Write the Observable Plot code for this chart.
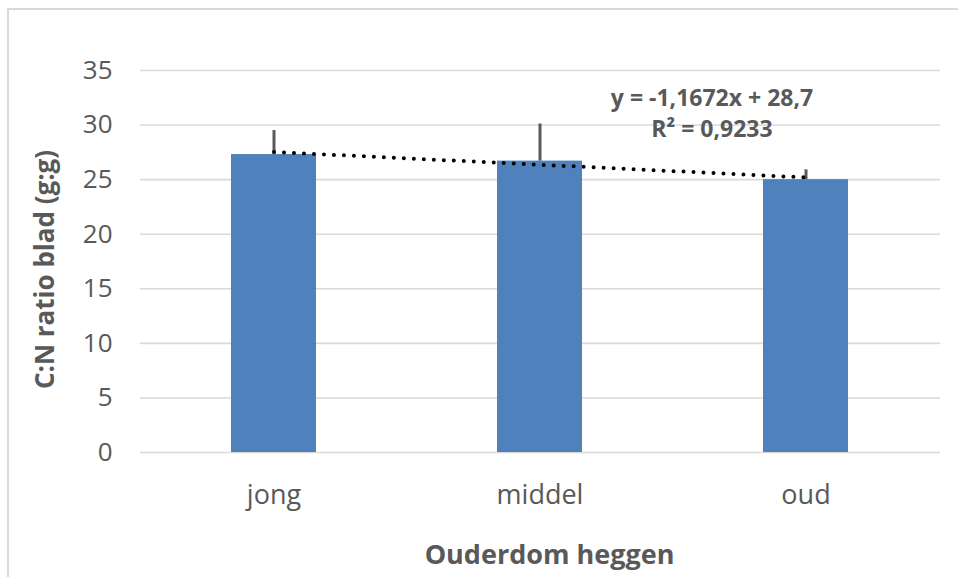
<!DOCTYPE html>
<html><head><meta charset="utf-8">
<script src="https://cdn.jsdelivr.net/npm/d3@7"></script>
<script src="https://cdn.jsdelivr.net/npm/@observablehq/plot@0.6"></script>
<style>
body{margin:0;background:#fff;}
#wrap{position:relative;width:958px;height:577px;overflow:hidden;}
#border{position:absolute;left:7px;top:8px;width:960px;height:580px;border-top:2px solid #d9d9d9;border-left:2px solid #d9d9d9;pointer-events:none;}
svg{display:block;}
</style></head><body><div id="wrap"><div id="border"></div></div>
<script>
const categories = ["jong", "middel", "oud"];
const values = [27.3, 26.7, 25.0];
const errorTops = [29.5, 30.1, 25.9];
// linear trendline y = -1,1672x + 28,7 evaluated at the first and last category
const trendCategories = ["jong", "oud"];
const trendValues = [27.53, 25.20];
const yTicks = [0, 5, 10, 15, 20, 25, 30, 35];
const equationLines = ["y = -1,1672x + 28,7", "R² = 0,9233"];
const equationY = [32.43, 29.6];
const xTitle = "Ouderdom heggen";
const yTitle = "C:N ratio blad (g:g)";

const bars = categories.map((c, i) => ({cat: c, value: values[i], top: errorTops[i]}));
const trend = trendCategories.map((c, i) => ({cat: c, value: trendValues[i]}));
const eq = equationLines.map((t, i) => ({text: t, y: equationY[i]}));

const textColor = "#595959";
const W = 958, H = 577, ML = 140, MR = 18, MT = 70, MB = 125;

const chart = Plot.plot({
  width: W, height: H,
  marginLeft: ML, marginRight: MR, marginTop: MT, marginBottom: MB,
  style: {fontFamily: "'Open Sans', sans-serif", background: "#fff"},
  x: {domain: categories, paddingInner: 0.68, paddingOuter: 0.34, label: null},
  y: {domain: [0, 35], label: null},
  marks: [
    Plot.gridY(yTicks, {stroke: "#d9d9d9", strokeOpacity: 1, strokeWidth: 1.6}),
    Plot.axisY(yTicks, {tickSize: 0, tickPadding: 28, fontSize: 26, fill: textColor, label: null}),
    Plot.axisX({tickSize: 0, tickPadding: 32, fontSize: 27, fill: textColor, label: null}),
    Plot.barY(bars, {x: "cat", y: "value", fill: "#4f81bd"}),
    Plot.ruleX(bars, {x: "cat", y1: "value", y2: "top", stroke: "#595959", strokeWidth: 3}),
    Plot.line(trend, {x: "cat", y: "value", stroke: "#000", strokeWidth: 4, strokeDasharray: "0 10", strokeLinecap: "round"}),
    Plot.text(eq, {x: () => "oud", y: "y", text: "text", dx: -94, fontSize: 23, fontWeight: "bold", fill: textColor}),
    Plot.text([xTitle], {frameAnchor: "top-left", dx: 549 - ML, dy: 555 - MT, textAnchor: "middle", lineAnchor: "middle", fontSize: 27, fontWeight: "bold", fill: textColor}),
    Plot.text([yTitle], {frameAnchor: "top-left", dx: 45 - ML, dy: 269 - MT, textAnchor: "middle", lineAnchor: "middle", rotate: -90, fontSize: 26, fontWeight: "bold", fill: textColor})
  ]
});
document.getElementById("wrap").prepend(chart);
</script>
</body></html>
